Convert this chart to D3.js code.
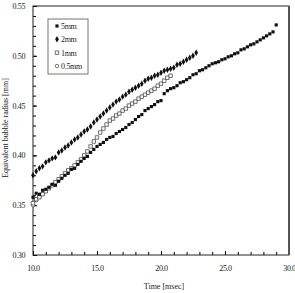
<!DOCTYPE html>
<html lang="en">
<head>
  <meta charset="UTF-8">
  <title>Equivalent bubble radius</title>
  <script src="https://d3js.org/d3.v7.min.js"></script>
  <style>
    body { margin: 0; background: #fff; }
    svg { display: block; }
    text { font-family: "Liberation Serif", "Times New Roman", serif; fill: #222; }
    .tick line { stroke: #000; }
    .domain { display: none; }
  </style>
</head>
<body>
  <svg id="chart" width="295" height="293"></svg>
  <script>
    // series data (time in msec, radius in mm)
    const time5 = [10.00,10.25,10.50,10.75,11.00,11.25,11.50,11.75,12.00,12.25,12.50,12.75,13.00,13.25,13.50,13.75,14.00,14.25,14.50,14.75,
      15.00,15.25,15.50,15.75,16.00,16.25,16.50,16.75,17.00,17.25,17.50,17.75,18.00,18.25,18.50,18.75,19.00,19.25,19.50,19.75,
      20.00,20.25,20.50,20.75,21.00,21.25,21.50,21.75,22.00,22.25,22.50,22.75,23.00,23.25,23.50,23.75,24.00,24.25,24.50,24.75,
      25.00,25.25,25.50,25.75,26.00,26.25,26.50,26.75,27.00,27.25,27.50,27.75,28.00,28.25,28.50,28.75,29.00];
    const radius5 = [0.358,0.362,0.361,0.365,0.366,0.368,0.371,0.370,0.374,0.377,0.380,0.382,0.386,0.387,0.391,0.394,0.397,0.399,0.403,0.406,
      0.409,0.411,0.413,0.416,0.418,0.419,0.422,0.424,0.426,0.428,0.431,0.433,0.436,0.439,0.441,0.445,0.447,0.449,0.451,0.454,
      0.455,0.462,0.465,0.467,0.468,0.470,0.473,0.474,0.476,0.478,0.481,0.482,0.485,0.486,0.488,0.490,0.492,0.493,0.494,0.496,
      0.497,0.499,0.500,0.502,0.503,0.506,0.507,0.509,0.511,0.512,0.514,0.516,0.518,0.520,0.522,0.524,0.531];

    const time2 = [10.00,10.25,10.50,10.75,11.00,11.25,11.50,11.75,12.00,12.25,12.50,12.75,13.00,13.25,13.50,13.75,14.00,14.25,14.50,14.75,
      15.00,15.25,15.50,15.75,16.00,16.25,16.50,16.75,17.00,17.25,17.50,17.75,18.00,18.25,18.50,18.75,19.00,19.25,19.50,19.75,
      20.00,20.25,20.50,20.75,21.00,21.25,21.50,21.75,22.00,22.25,22.50,22.75];
    const radius2 = [0.380,0.384,0.387,0.389,0.393,0.395,0.397,0.398,0.403,0.405,0.408,0.410,0.413,0.416,0.418,0.421,0.424,0.426,0.429,0.433,
      0.436,0.439,0.442,0.445,0.448,0.451,0.454,0.456,0.459,0.461,0.464,0.466,0.468,0.470,0.472,0.475,0.477,0.478,0.480,0.481,
      0.483,0.485,0.486,0.487,0.488,0.491,0.492,0.494,0.496,0.498,0.500,0.503];

    const time1 = [10.00,10.25,10.50,10.75,11.00,11.25,11.50,11.75,12.00,12.25,12.50,12.75,13.00,13.25,13.50,13.75,14.00,14.25,14.50,14.75,
      15.00,15.25,15.50,15.75,16.00,16.25,16.50,16.75,17.00,17.25,17.50,17.75,18.00,18.25,18.50,18.75,19.00,19.25,19.50,19.75,
      20.00,20.25,20.50,20.75];
    const radius1 = [0.352,0.356,0.358,0.361,0.364,0.367,0.370,0.373,0.376,0.379,0.382,0.385,0.387,0.390,0.393,0.396,0.400,0.404,0.409,0.414,
      0.418,0.423,0.427,0.431,0.435,0.437,0.440,0.442,0.445,0.447,0.450,0.452,0.454,0.457,0.459,0.461,0.463,0.465,0.467,0.470,
      0.472,0.475,0.478,0.480];

    const time05 = [10.00,10.25,10.50];
    const radius05 = [0.350,0.355,0.359];

    const seriesNames = ["5mm", "2mm", "1mm", "0.5mm"];
    const xTickLabels = [10, 15, 20, 25, 30];
    const yTickLabels = [0.30, 0.35, 0.40, 0.45, 0.50, 0.55];

    const svg = d3.select("#chart");
    const plotL = 33, plotR = 289, plotT = 6, plotB = 255;

    const x = d3.scaleLinear().domain([10, 30]).range([plotL, plotR]);
    const y = d3.scaleLinear().domain([0.30, 0.55]).range([plotB, plotT]);

    // minor ticks, pointing inward
    svg.append("g")
      .attr("transform", `translate(0,${plotB})`)
      .call(d3.axisBottom(x).tickValues(d3.range(10, 31, 1)).tickSize(-3).tickFormat(""));
    svg.append("g")
      .attr("transform", `translate(${plotL},0)`)
      .call(d3.axisLeft(y).tickValues(d3.range(30, 56, 1).map(v => v / 100)).tickSize(-3).tickFormat(""));

    // labelled ticks
    svg.append("g")
      .attr("transform", `translate(0,${plotB})`)
      .call(d3.axisBottom(x).tickValues(xTickLabels).tickSize(-4).tickPadding(10).tickFormat(d3.format(".1f")));
    svg.append("g")
      .attr("transform", `translate(${plotL},0)`)
      .call(d3.axisLeft(y).tickValues(yTickLabels).tickSize(-4).tickPadding(8).tickFormat(d3.format(".2f")));
    svg.selectAll(".tick text")
      .style("font-family", "'Liberation Serif', serif")
      .style("font-size", "8px")
      .style("letter-spacing", "-0.4px")
      .attr("fill", "#333");

    // frame
    svg.append("rect")
      .attr("x", plotL).attr("y", plotT)
      .attr("width", plotR - plotL).attr("height", plotB - plotT)
      .attr("fill", "none").attr("stroke", "#222").attr("stroke-width", 1);
    svg.append("line")
      .attr("x1", plotR).attr("x2", plotR).attr("y1", plotT).attr("y2", plotB)
      .attr("stroke", "#555").attr("stroke-width", 2);

    // markers
    const sq = d3.symbol().type(d3.symbolSquare);
    const dia = d3.symbol().type(d3.symbolDiamond);
    const circ = d3.symbol().type(d3.symbolCircle);

    function plot(times, radii, gen, size, fill, stroke) {
      svg.append("g").selectAll("path")
        .data(times.map((t, i) => [t, radii[i]]))
        .join("path")
        .attr("transform", d => `translate(${x(d[0])},${y(d[1])})`)
        .attr("d", gen.size(size)())
        .attr("fill", fill)
        .attr("stroke", stroke)
        .attr("stroke-width", 0.7);
    }

    plot(time05, radius05, circ, 9, "#fff", "#444");
    plot(time1, radius1, sq, 12, "#fff", "#333");
    plot(time5, radius5, sq, 10, "#111", "none");
    plot(time2, radius2, dia, 12, "#111", "none");

    // legend
    const legend = svg.append("g");
    legend.append("rect")
      .attr("x", 48).attr("y", 19).attr("width", 40).attr("height", 55)
      .attr("fill", "#fff").attr("stroke", "#777").attr("stroke-width", 1);
    const legendGens = [
      { gen: sq, size: 10, fill: "#111", stroke: "none" },
      { gen: dia, size: 12, fill: "#111", stroke: "none" },
      { gen: sq, size: 12, fill: "#fff", stroke: "#333" },
      { gen: circ, size: 9, fill: "#fff", stroke: "#444" }
    ];
    const legendY = d3.scalePoint().domain(seriesNames).range([26, 66]);
    seriesNames.forEach((name, i) => {
      const s = legendGens[i];
      legend.append("path")
        .attr("transform", `translate(57,${legendY(name)})`)
        .attr("d", s.gen.size(s.size)())
        .attr("fill", s.fill).attr("stroke", s.stroke).attr("stroke-width", 0.7);
      legend.append("text")
        .attr("x", 61).attr("y", legendY(name) + 3)
        .style("font-size", "8px")
        .style("letter-spacing", "-0.3px")
        .text(name);
    });

    // axis titles
    svg.append("text")
      .attr("x", 164).attr("y", 289)
      .attr("text-anchor", "middle")
      .style("font-size", "8px")
      .text("Time [msec]");
    svg.append("text")
      .attr("transform", "translate(8,128) rotate(-90)")
      .attr("text-anchor", "middle")
      .style("font-size", "8px")
      .text("Equivalent bubble radius [mm]");
  </script>
</body>
</html>
